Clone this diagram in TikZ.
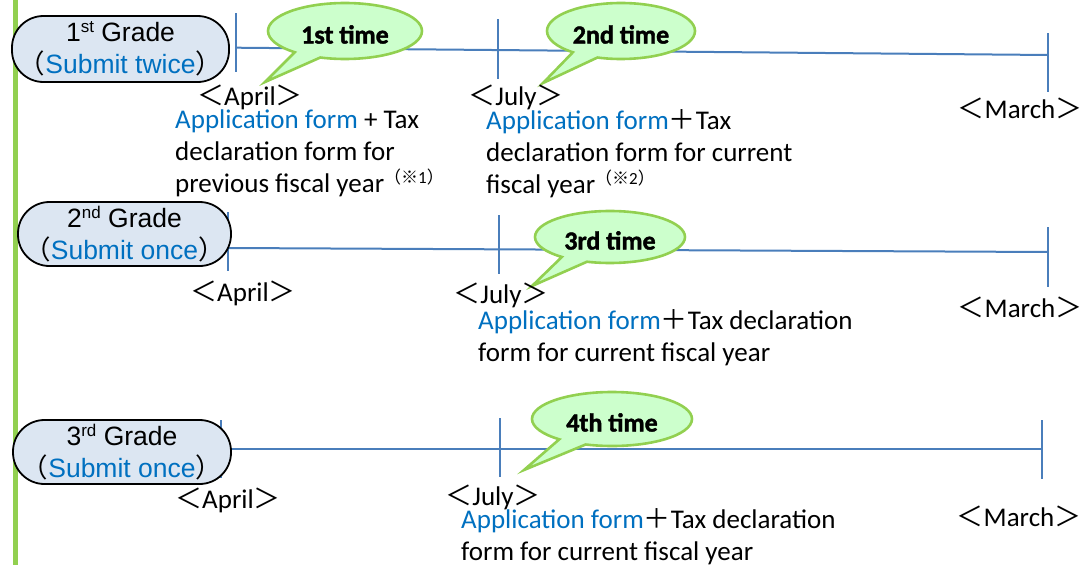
\documentclass[tikz,border=0pt]{standalone}
\usepackage{fontspec}
\setmainfont{Carlito}
\newfontfamily\arialf{Liberation Sans}
\newfontfamily\cjkf{Noto Sans CJK JP}
\newfontfamily\bubf[FakeBold=1.6]{Carlito Bold}
\usetikzlibrary{shapes.callouts}
\definecolor{barGreen}{HTML}{92D050}
\definecolor{bubFill}{HTML}{CCFFCC}
\definecolor{boxFill}{HTML}{DCE6F2}
\definecolor{lineBlue}{HTML}{4A7EBB}
\definecolor{txtBlue}{HTML}{0070C0}
\newcommand\myLT{{\cjkf ＜}}
\newcommand\myGT{{\cjkf ＞}}
\newcommand\myPlus{{\cjkf ＋}}
\newcommand\myParL{{\cjkf （}}
\newcommand\myParR{{\cjkf ）}}
\newcommand\mySup[1]{\raisebox{8.5pt}{\fontsize{17}{17}\selectfont #1}}
\newcommand\myNote[1]{\raisebox{9pt}{\fontsize{17}{17}\selectfont{\cjkf （※}#1{\cjkf ）}}}
\begin{document}
\begin{tikzpicture}[x=1pt,y=-1pt,
  timeline/.style={draw=lineBlue, line width=2pt},
  tickmark/.style={draw=lineBlue, line width=2pt},
  gradebox/.style={draw=black, line width=1.8pt, fill=boxFill, rounded corners=31.5pt,
    inner sep=0pt, align=center, font={\arialf\fontsize{26.5}{32}\selectfont}},
  bubble/.style={ellipse callout, draw=barGreen, line width=2.6pt, fill=bubFill,
    font={\bubf\fontsize{26}{26}\selectfont}, inner sep=0pt, callout pointer arc=22,
    text height=25pt, text depth=0pt},
  month/.style={font={\fontsize{27}{32}\selectfont}, inner sep=0pt},
  desc/.style={font={\fontsize{27}{32}\selectfont}, align=left, anchor=west, inner sep=0pt}
]
\useasboundingbox (0,0) rectangle (1084,565);
% green side bar
\fill[barGreen] (12.7,0) rectangle (18.3,565);

% ---------- coordinates ----------
% row 1
\coordinate (r1as) at (236,13);  \coordinate (r1ae) at (236,72);
\coordinate (r1js) at (498,19);  \coordinate (r1je) at (498,79);
\coordinate (r1ms) at (1048,33); \coordinate (r1me) at (1048,92);
\coordinate (r1ls) at (236,47.7); \coordinate (r1le) at (1048,55);
% row 2
\coordinate (r2as) at (228,212); \coordinate (r2ae) at (228,271);
\coordinate (r2js) at (499,215); \coordinate (r2je) at (499,274);
\coordinate (r2ms) at (1048,227); \coordinate (r2me) at (1048,287);
\coordinate (r2ls) at (229,248); \coordinate (r2le) at (1048,252);
% row 3
\coordinate (r3as) at (221,420); \coordinate (r3ae) at (221,478);
\coordinate (r3js) at (500,418); \coordinate (r3je) at (500,477);
\coordinate (r3ms) at (1042,420); \coordinate (r3me) at (1042,479);
\coordinate (r3ls) at (229,449); \coordinate (r3le) at (1042,449);
% bubble tips
\coordinate (tip1) at (265,82);
\coordinate (tip2) at (543,83);
\coordinate (tip3) at (532,286);
\coordinate (tip4) at (524,470);

% ---------- timelines ----------
\draw[timeline] (r1ls) -- (r1le);
\draw[tickmark] (r1as) -- (r1ae);
\draw[tickmark] (r1js) -- (r1je);
\draw[tickmark] (r1ms) -- (r1me);
\draw[timeline] (r2ls) -- (r2le);
\draw[tickmark] (r2as) -- (r2ae);
\draw[tickmark] (r2js) -- (r2je);
\draw[tickmark] (r2ms) -- (r2me);
\draw[timeline] (r3ls) -- (r3le);
\draw[tickmark] (r3as) -- (r3ae);
\draw[tickmark] (r3js) -- (r3je);
\draw[tickmark] (r3ms) -- (r3me);

% ---------- grade boxes ----------
\node[gradebox, minimum width=217pt, minimum height=66pt] (g1) at (120.5,49)
  {1\mySup{st} Grade\\\myParL\textcolor{txtBlue}{Submit twice}\myParR};
\node[gradebox, minimum width=213pt, minimum height=64pt] (g2) at (124.5,234)
  {2\mySup{nd} Grade\\\myParL\textcolor{txtBlue}{Submit once}\myParR};
\node[gradebox, minimum width=218pt, minimum height=64pt] (g3) at (122,452)
  {3\mySup{rd} Grade\\\myParL\textcolor{txtBlue}{Submit once}\myParR};

% ---------- bubbles ----------
\node[bubble, minimum width=154pt, minimum height=56pt, callout absolute pointer={(tip1)}] (b1) at (345,31) {1st time};
\node[bubble, minimum width=148pt, minimum height=56pt, callout absolute pointer={(tip2)}] (b2) at (621,31) {2nd time};
\node[bubble, minimum width=150pt, minimum height=52pt, callout absolute pointer={(tip3)}] (b3) at (610,237) {3rd time};
\node[bubble, minimum width=160pt, minimum height=54pt, callout absolute pointer={(tip4)}] (b4) at (612,419) {4th time};

% ---------- month labels ----------
\node[month] (m1a) at (250,97) {\myLT April\myGT};
\node[month] (m1j) at (516,97) {\myLT July\myGT};
\node[month] (m1m) at (1020,108) {\myLT March\myGT};
\node[month] (m2a) at (243,293) {\myLT April\myGT};
\node[month] (m2j) at (501,295) {\myLT July\myGT};
\node[month] (m2m) at (1020,307) {\myLT March\myGT};
\node[month] (m3a) at (228,500) {\myLT April\myGT};
\node[month] (m3j) at (493,497) {\myLT July\myGT};
\node[month] (m3m) at (1019,516) {\myLT March\myGT};

% ---------- descriptions ----------
\node[desc] (dA) at (175,153)
  {\textcolor{txtBlue}{Application form} + Tax\\declaration form for\\previous fiscal year\myNote{1}};
\node[desc] (dB) at (486,154)
  {\textcolor{txtBlue}{Application form}\myPlus Tax\\declaration form for current\\fiscal year\myNote{2}};
\node[desc] (dC) at (478,338)
  {\textcolor{txtBlue}{Application form}\myPlus Tax declaration\\form for current fiscal year};
\node[desc] (dD) at (461,537)
  {\textcolor{txtBlue}{Application form}\myPlus Tax declaration\\form for current fiscal year};
\end{tikzpicture}
\end{document}
